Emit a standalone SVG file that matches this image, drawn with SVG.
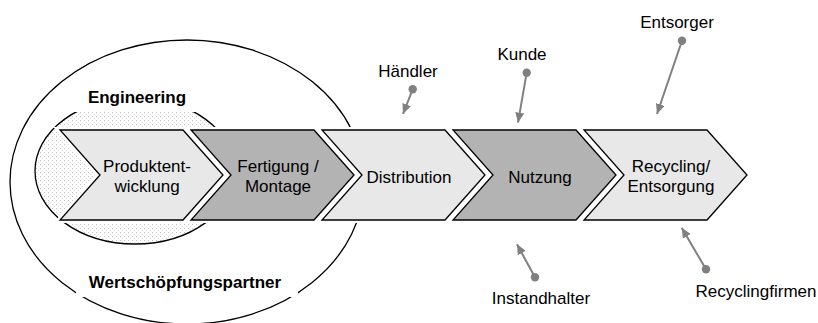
<svg xmlns="http://www.w3.org/2000/svg" xmlns:xlink="http://www.w3.org/1999/xlink" width="818" height="323" viewBox="0 0 818 323">
  <style>
    text { font-family: "Liberation Sans", Arial, sans-serif; font-size: 17px; fill: #000; }
    .bold { font-weight: bold; }
    .mid { text-anchor: middle; }
    .outline { fill: none; stroke: #000; stroke-width: 1.3; }
    .halo { fill: #fff; stroke: #fff; stroke-width: 6; stroke-linejoin: miter; }
    .light { fill: #e8e8e8; stroke: #000; stroke-width: 1.3; stroke-linejoin: miter; }
    .dark { fill: #b3b3b3; stroke: #000; stroke-width: 1.3; stroke-linejoin: miter; }
    .link { stroke: #808080; stroke-width: 2; fill: none; marker-start: url(#dot); marker-end: url(#head); }
  </style>
  <defs>
    <pattern id="dots" width="4" height="4" patternUnits="userSpaceOnUse">
      <rect width="4" height="4" fill="#fff"/>
      <rect x="0" y="0" width="1" height="1" fill="#c2c2c2"/>
      <rect x="2" y="2" width="1" height="1" fill="#dedede"/>
    </pattern>
    <!-- process step shape, 163 x 90 -->
    <path id="chev" d="M0,0 H123 L163,45 L123,90 H0 L40,45 Z"/>
    <marker id="head" markerUnits="userSpaceOnUse" markerWidth="10" markerHeight="9" refX="10" refY="4.5" orient="auto">
      <path d="M0,0 L10,4.5 L0,9 Z" fill="#808080"/>
    </marker>
    <marker id="dot" markerUnits="userSpaceOnUse" markerWidth="10" markerHeight="10" refX="5" refY="5">
      <circle cx="5" cy="5" r="4.2" fill="#808080"/>
    </marker>
  </defs>

  <!-- value-creation partners -->
  <g id="partner">
    <ellipse class="outline" cx="187" cy="182" rx="177" ry="142"/>
    <rect x="76" y="268" width="222" height="29" fill="#fff"/>
    <text class="bold mid" x="185" y="288">Wertschöpfungspartner</text>
  </g>

  <!-- engineering domain -->
  <g id="engineering">
    <ellipse cx="135" cy="171" rx="100" ry="73" fill="url(#dots)" stroke="#000" stroke-width="1.3"/>
    <rect x="72" y="84" width="127" height="28" fill="#fff"/>
    <text class="bold mid" x="137" y="103">Engineering</text>
  </g>

  <!-- process chain -->
  <g id="produktentwicklung" transform="translate(60,130)">
    <use xlink:href="#chev" class="halo"/>
    <use xlink:href="#chev" class="light"/>
    <text class="mid" x="87" y="42">Produktent-</text>
    <text class="mid" x="87" y="62">wicklung</text>
  </g>
  <g id="fertigung" transform="translate(191,130)">
    <use xlink:href="#chev" class="halo"/>
    <use xlink:href="#chev" class="dark"/>
    <text class="mid" x="87" y="42">Fertigung /</text>
    <text class="mid" x="87" y="62">Montage</text>
  </g>
  <g id="distribution" transform="translate(322,130)">
    <use xlink:href="#chev" class="halo"/>
    <use xlink:href="#chev" class="light"/>
    <text class="mid" x="87" y="53">Distribution</text>
  </g>
  <g id="nutzung" transform="translate(453,130)">
    <use xlink:href="#chev" class="halo"/>
    <use xlink:href="#chev" class="dark"/>
    <text class="mid" x="87" y="53">Nutzung</text>
  </g>
  <g id="recycling" transform="translate(584,130)">
    <use xlink:href="#chev" class="halo"/>
    <use xlink:href="#chev" class="light"/>
    <text class="mid" x="87" y="42">Recycling/</text>
    <text class="mid" x="87" y="62">Entsorgung</text>
  </g>

  <!-- actors -->
  <g id="haendler"><text class="mid" x="408" y="77">Händler</text></g>
  <g id="kunde"><text class="mid" x="522" y="60">Kunde</text></g>
  <g id="entsorger"><text class="mid" x="677" y="28">Entsorger</text></g>
  <g id="instandhalter"><text class="mid" x="541" y="304">Instandhalter</text></g>
  <g id="recyclingfirmen"><text class="mid" x="756" y="297">Recyclingfirmen</text></g>

  <!-- connectors -->
  <g id="connectors">
    <line class="link" x1="412.7" y1="89.3" x2="403" y2="114"/>
    <line class="link" x1="526.7" y1="72.7" x2="518" y2="122.7"/>
    <line class="link" x1="682" y1="40.7" x2="657" y2="114"/>
    <line class="link" x1="535" y1="277.3" x2="517" y2="244.3"/>
    <line class="link" x1="706" y1="269.3" x2="681.7" y2="227.7"/>
  </g>
</svg>
